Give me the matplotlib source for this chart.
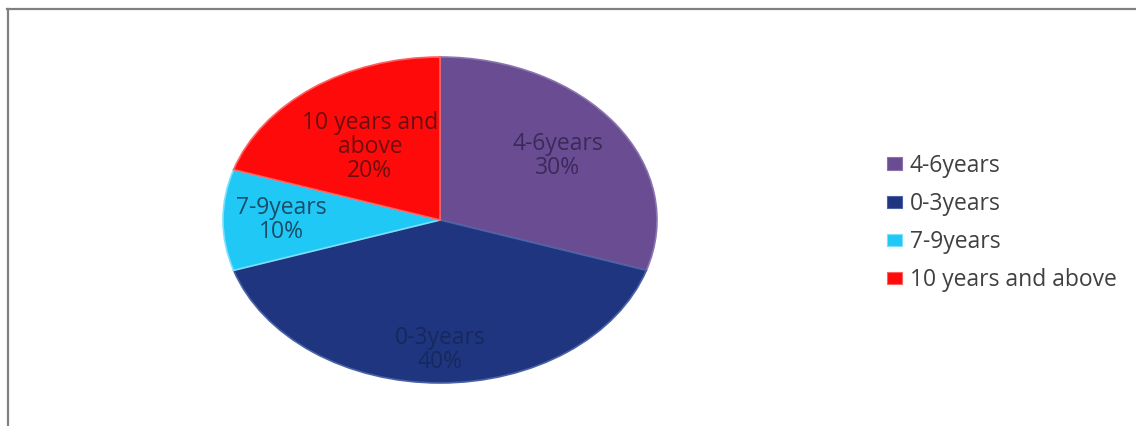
import numpy as np
import matplotlib
matplotlib.use("Agg")
import matplotlib.pyplot as plt
from matplotlib.patches import Patch
from matplotlib.lines import Line2D

plt.rcParams["font.family"] = ["Open Sans", "DejaVu Sans"]

# order as drawn, clockwise from 12 o'clock
categories = ["4-6years", "0-3years", "7-9years", "10 years and above"]
shares = [30, 40, 10, 20]
slice_labels = ["4-6years", "0-3years", "7-9years", "10 years and\nabove"]

colors = ["#6A4C93", "#1F3580", "#1FC8F5", "#FF0A0A"]
edge_colors = ["#8A73AE", "#4A62A6", "#7CE0FA", "#FF6060"]
text_colors = ["#3A2A5A", "#16295C", "#1A4C6A", "#6A0F0F"]
label_dist = [0.67, 0.80, 0.73, 0.55]

W, H = 1136, 426
fig = plt.figure(figsize=(W / 100, H / 100), dpi=100)

# elliptical pie: axes box matches the ellipse in pixels
left, top, right, bottom = 223, 57, 657, 383
ax = fig.add_axes([left / W, (H - bottom) / H, (right - left) / W, (bottom - top) / H])

wedges, _ = ax.pie(shares, colors=colors, startangle=90, counterclock=False,
                   radius=1.0, wedgeprops=dict(linewidth=1.2))
for w, ec in zip(wedges, edge_colors):
    w.set_edgecolor(ec)

ax.set_aspect("auto")
ax.set_xlim(-1.0, 1.0)
ax.set_ylim(-1.0, 1.0)

for w, lab, val, tc, d in zip(wedges, slice_labels, shares, text_colors, label_dist):
    mid = np.deg2rad((w.theta1 + w.theta2) / 2)
    ax.text(d * np.cos(mid), d * np.sin(mid), f"{lab}\n{val}%",
            ha="center", va="center", fontsize=16.5, color=tc, linespacing=1.0)

# legend
handles = [Patch(facecolor=c, edgecolor=ec, linewidth=0.8) for c, ec in zip(colors, edge_colors)]
fig.legend(handles, categories, loc="center left", bbox_to_anchor=(866 / W, 1 - 223 / H),
           frameon=False, fontsize=16.5, handlelength=0.65, handleheight=0.45,
           handletextpad=0.35, labelspacing=0.62, labelcolor="#404040")

# chart frame (top and left visible)
fig.add_artist(Line2D([7 / W, 1.0], [1 - 9 / H, 1 - 9 / H], color="#808080", linewidth=1.6))
fig.add_artist(Line2D([7.5 / W, 7.5 / W], [0.0, 1 - 9 / H], color="#808080", linewidth=1.6))

fig.savefig("out.png", dpi=100)
